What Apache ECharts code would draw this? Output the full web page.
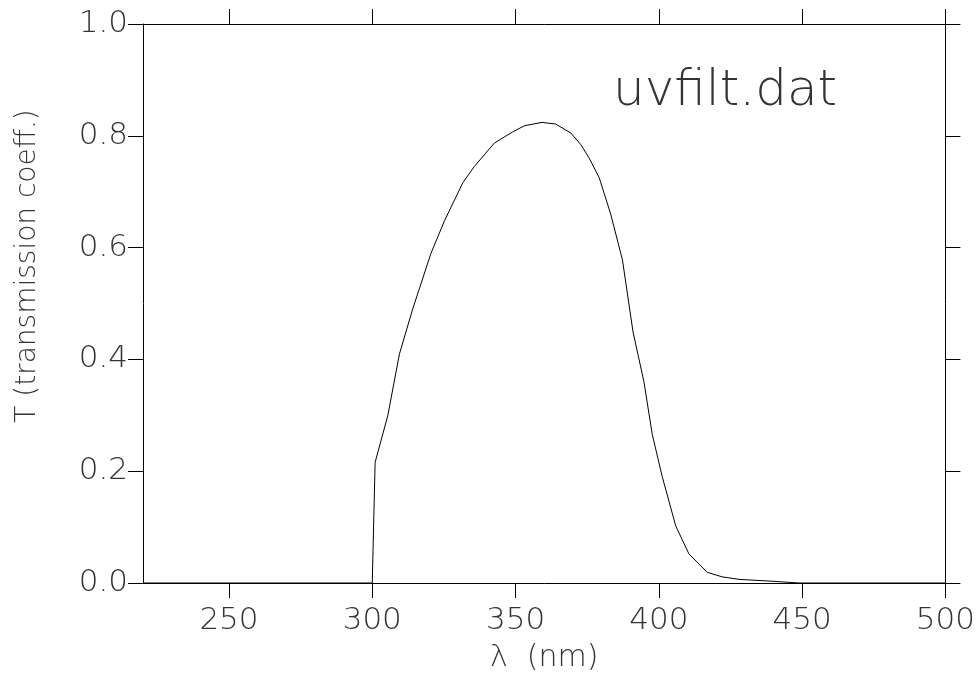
<!DOCTYPE html>
<html>
<head>
<meta charset="utf-8">
<script src="https://cdn.jsdelivr.net/npm/echarts@6/dist/echarts.min.js"></script>
<style>
html,body{margin:0;padding:0;background:#fff;}
#chart{width:978px;height:678px;}
</style>
</head>
<body>
<div id="chart"></div>
<script>
// ---- data ----
var wavelength = [220, 300, 301, 305.4, 309.5, 314.1, 320.5, 325.2, 331.6, 335.6, 342.6, 349.0, 353.1, 359.2, 364.0, 369.3, 372.8, 375.7, 379.2, 383.2, 387.3, 391.0, 394.8, 397.7, 401.2, 405.9, 410.5, 416.9, 422.1, 428.0, 438.4, 449.0, 500];
var transmission = [0, 0, 0.216, 0.299, 0.410, 0.490, 0.590, 0.648, 0.716, 0.745, 0.787, 0.807, 0.818, 0.824, 0.821, 0.805, 0.784, 0.760, 0.725, 0.660, 0.578, 0.449, 0.360, 0.266, 0.190, 0.102, 0.052, 0.019, 0.011, 0.0065, 0.0035, 0, 0];
var xTicks = [250, 300, 350, 400, 450, 500];
var yTicks = [0, 0.2, 0.4, 0.6, 0.8, 1.0];
var xTitle = 'λ  (nm)';
var yTitle = 'T (transmission coeff.)';
var fileLabel = 'uvfilt.dat';

var FONT = '"DejaVu Sans"';
var TXT = '#333';
var points = wavelength.map(function (w, i) { return [w, transmission[i]]; });

var chart = echarts.init(document.getElementById('chart'));
function line() { return { show: true, onZero: false, lineStyle: { color: '#000', width: 1 } }; }
function ticks(vals) { return { show: true, length: 15, inside: false, lineStyle: { color: '#000', width: 1 }, customValues: vals }; }

chart.setOption({
  animation: false,
  grid: { left: 143, right: 31, top: 24, bottom: 87, containLabel: false },
  xAxis: [{
    type: 'value', min: 220, max: 500, position: 'bottom',
    axisLine: line(), axisTick: ticks(xTicks),
    axisLabel: { show: true, customValues: xTicks, margin: 22, fontFamily: FONT, fontWeight: 200, fontSize: 31, color: TXT },
    splitLine: { show: false },
    name: xTitle, nameLocation: 'middle', nameGap: 60,
    nameTextStyle: { fontFamily: FONT, fontWeight: 200, fontSize: 30, color: TXT }
  }, {
    type: 'value', min: 220, max: 500, position: 'top',
    axisLine: line(), axisTick: ticks(xTicks),
    axisLabel: { show: false }, splitLine: { show: false }
  }],
  yAxis: [{
    type: 'value', min: 0, max: 1, position: 'left',
    axisLine: line(), axisTick: ticks(yTicks),
    axisLabel: { show: true, customValues: yTicks, margin: 15, fontFamily: FONT, fontWeight: 200, fontSize: 31, color: TXT,
      formatter: function (v) { return v.toFixed(1); } },
    splitLine: { show: false }
  }, {
    type: 'value', min: 0, max: 1, position: 'right',
    axisLine: line(), axisTick: ticks(yTicks),
    axisLabel: { show: false }, splitLine: { show: false }
  }],
  graphic: [{
    type: 'text', x: 613, y: 67,
    style: { text: fileLabel, font: '200 50px ' + FONT, fill: TXT }
  }, {
    type: 'text', x: 28, y: 266, rotation: Math.PI / 2,
    style: { text: yTitle, font: '200 28px ' + FONT, fill: TXT, textAlign: 'center', textVerticalAlign: 'middle' }
  }],
  series: [{
    type: 'line', xAxisIndex: 0, yAxisIndex: 0,
    data: points, showSymbol: false, symbol: 'none',
    lineStyle: { color: '#000', width: 1 }
  }]
});
</script>
</body>
</html>
